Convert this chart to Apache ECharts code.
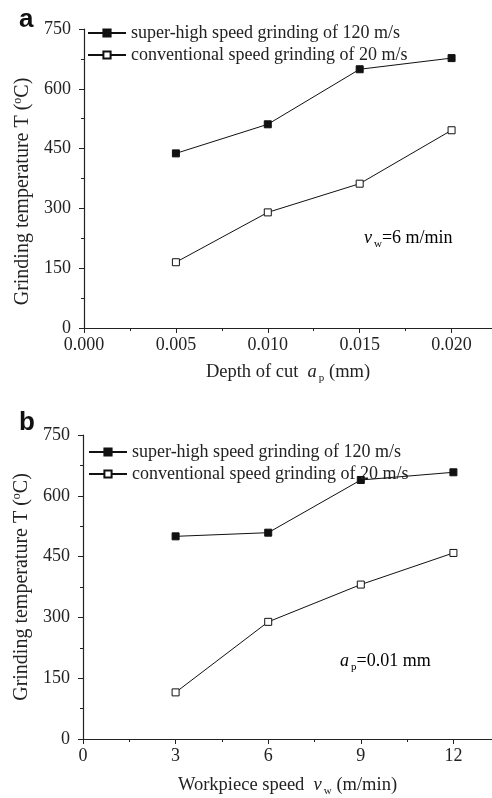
<!DOCTYPE html>
<html><head><meta charset="utf-8">
<script src="https://cdn.jsdelivr.net/npm/echarts@6/dist/echarts.min.js"></script>
<style>html,body{margin:0;padding:0;background:#fff}#c{width:492px;height:798px}</style>
</head><body><div id="c"></div>
<script>
var seriesNames = ['super-high speed grinding of 120 m/s', 'conventional speed grinding of 20 m/s'];
// Panel a: depth of cut (mm)
var depthCut = [0.005, 0.010, 0.015, 0.020];
var aSuper = [438, 511, 649, 677];
var aConv = [165, 290, 362, 496];
// Panel b: workpiece speed (m/min)
var wpSpeed = [3, 6, 9, 12];
var bSuper = [500, 509, 639, 658];
var bConv = [115, 289, 381, 459];
var yTicks = [0, 150, 300, 450, 600, 750];

var F = 'Liberation Serif, Times New Roman, serif';
function mkRich(fs){
  return {
    n: {fontFamily: F, fontSize: fs, color: '#222'},
    i: {fontFamily: F, fontSize: fs, fontStyle: 'italic', color: '#222'},
    sub: {fontFamily: F, fontSize: 11, color: '#222', padding: [13, 0, 0, 2]},
    sup: {fontFamily: F, fontSize: 12, color: '#222', padding: [0, 0, 11, 0]}
  };
}
var richT = mkRich(20), richX = mkRich(18.5), richA = mkRich(18);
function pairs(xs, ys){ return xs.map(function(x,i){return [x, ys[i]];}); }

function yAx(gi, pad){
  return {type:'value', gridIndex:gi, min:0, max:750, interval:150,
    name:'{n|Grinding temperature T (}{sup|o}{n|C)}', nameLocation:'middle', nameGap:45,
    nameTextStyle:{rich:richT, padding:pad},
    axisLine:{show:true, lineStyle:{color:'#222', width:1.2}},
    axisTick:{show:true, length:5, lineStyle:{color:'#222'}},
    minorTick:{show:true, splitNumber:2, length:3, lineStyle:{color:'#222'}},
    splitLine:{show:false},
    axisLabel:{fontFamily:F, fontSize:18, color:'#222', margin:13}
  };
}
function xAx(gi, max, interval, name, fmt, gap){
  return {type:'value', gridIndex:gi, min:0, max:max, interval:interval,
    name:name, nameLocation:'middle', nameGap:gap, nameTextStyle:{rich:richX},
    axisLine:{show:true, onZero:false, lineStyle:{color:'#222', width:1.2}},
    axisTick:{show:true, length:5, lineStyle:{color:'#222'}},
    minorTick:{show:true, splitNumber:2, length:3, lineStyle:{color:'#222'}},
    splitLine:{show:false},
    axisLabel:{fontFamily:F, fontSize:18, color:'#222', margin:8, showMaxLabel:false, formatter:fmt}
  };
}
function ser(name, gi, data, filled){
  return {name:name, type:'line', xAxisIndex:gi, yAxisIndex:gi, data:data,
    symbol:'rect', symbolSize:7, showSymbol:true,
    lineStyle:{color:'#111', width:1},
    itemStyle:{color: filled ? '#111' : '#fff', borderColor:'#111', borderWidth:1},
    emphasis:{disabled:true}, z: 3};
}
var legendCommon = {orient:'vertical', itemWidth:38, itemHeight:9, itemGap:2,
  textStyle:{fontFamily:F, fontSize:18, color:'#222', lineHeight:20}, data: seriesNames, selectedMode:false};

var chart = echarts.init(document.getElementById('c'), null, {renderer:'canvas'});
chart.setOption({
  animation:false,
  backgroundColor:'#fff',
  grid:[
    {left:84, top:29, width:408, height:299},
    {left:83, top:435, width:409, height:306}
  ],
  xAxis:[
    xAx(0, 0.0222, 0.005, '{n|Depth of cut  }{i|a}{sub|p}{n| (mm)}', function(v){return v.toFixed(3);}, 32),
    xAx(1, 13.25, 3, '{n|Workpiece speed  }{i|v}{sub|w}{n| (m/min)}', function(v){return String(v);}, 34)
  ],
  yAxis:[yAx(0, [0, 26, 0, 0]), yAx(1, 0)],
  legend:[
    Object.assign({left:82, top:18}, legendCommon),
    Object.assign({left:83, top:437}, legendCommon)
  ],
  series:[
    ser(seriesNames[0], 0, pairs(depthCut, aSuper), true),
    ser(seriesNames[1], 0, pairs(depthCut, aConv), false),
    ser(seriesNames[0], 1, pairs(wpSpeed, bSuper), true),
    ser(seriesNames[1], 1, pairs(wpSpeed, bConv), false)
  ],
  graphic:[
    {type:'text', left:19, top:7, style:{text:'a', fontFamily:'Liberation Sans, Arial, sans-serif', fontWeight:'bold', fontSize:26, fill:'#111'}},
    {type:'text', left:19, top:410, style:{text:'b', fontFamily:'Liberation Sans, Arial, sans-serif', fontWeight:'bold', fontSize:26, fill:'#111'}},
    {type:'text', left:364, top:229, style:{text:'{i|v}{sub|w}{n|=6 m/min}', rich:richA}},
    {type:'text', left:340, top:652, style:{text:'{i|a}{sub|p}{n|=0.01 mm}', rich:richA}}
  ]
});
</script></body></html>
